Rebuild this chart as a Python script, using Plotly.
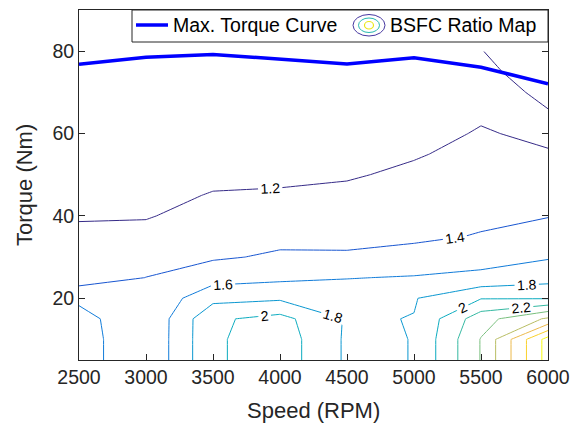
import plotly.graph_objects as go

# ---------------- data ----------------
speed_rpm = [2500, 3000, 3500, 4000, 4500, 5000, 5500, 6000]
torque_nm = [5, 10, 15, 20, 25, 30, 35, 40, 45, 50, 55, 60, 65, 70, 75, 80]

# BSFC ratio values: one row per torque value, one column per speed
bsfc_t05 = [1.71, 1.41, 1.97, 2.11, 1.77, 1.803, 2.41, 3.28]
bsfc_t10 = [1.71, 1.41, 1.97, 2.11, 1.77, 1.803, 2.41, 3.28]
bsfc_t15 = [1.69, 1.407, 1.967, 2.065, 1.78, 1.805, 2.318, 2.63]
bsfc_t20 = [1.549, 1.43, 1.741, 1.77, 1.72, 1.788, 1.99, 1.985]
bsfc_t25 = [1.301, 1.402, 1.521, 1.558, 1.592, 1.614, 1.65, 1.721]
bsfc_t30 = [1.263, 1.329, 1.377, 1.425, 1.42, 1.46, 1.52, 1.584]
bsfc_t35 = [1.226, 1.258, 1.330, 1.354, 1.359, 1.37, 1.41, 1.487]
bsfc_t40 = [1.19, 1.187, 1.270, 1.289, 1.30, 1.332, 1.367, 1.392]
bsfc_t45 = [1.16, 1.15, 1.21, 1.224, 1.241, 1.283, 1.328, 1.332]
bsfc_t50 = [1.13, 1.12, 1.16, 1.158, 1.182, 1.234, 1.289, 1.272]
bsfc_t55 = [1.11, 1.10, 1.12, 1.12, 1.14, 1.185, 1.251, 1.212]
bsfc_t60 = [1.10, 1.09, 1.10, 1.09, 1.11, 1.15, 1.212, 1.17]
bsfc_t65 = [1.10, 1.08, 1.08, 1.07, 1.08, 1.12, 1.18, 1.195]
bsfc_t70 = [1.11, 1.09, 1.07, 1.06, 1.07, 1.10, 1.16, 1.22]
bsfc_t75 = [1.12, 1.10, 1.08, 1.07, 1.08, 1.11, 1.17, 1.265]
bsfc_t80 = [1.14, 1.12, 1.10, 1.09, 1.10, 1.13, 1.195, 1.32]

bsfc_ratio = [bsfc_t05, bsfc_t10, bsfc_t15, bsfc_t20, bsfc_t25, bsfc_t30,
              bsfc_t35, bsfc_t40, bsfc_t45, bsfc_t50, bsfc_t55, bsfc_t60,
              bsfc_t65, bsfc_t70, bsfc_t75, bsfc_t80]

max_torque = [76.8, 78.5, 79.2, 78.1, 76.9, 78.4, 76.1, 72.1]

x_ticks = [2500, 3000, 3500, 4000, 4500, 5000, 5500, 6000]
y_ticks = [20, 40, 60, 80]

# MATLAB parula colormap (R2017a+), sampled
parula_rgb = [
    (0.2081, 0.1663, 0.5292), (0.1959, 0.2645, 0.7279), (0.0117, 0.3875, 0.8820),
    (0.0629, 0.4737, 0.8554), (0.0749, 0.5375, 0.8263), (0.0265, 0.6137, 0.8135),
    (0.0228, 0.6535, 0.7768), (0.0590, 0.6838, 0.7254), (0.1453, 0.7098, 0.6646),
    (0.2586, 0.7317, 0.5954), (0.3953, 0.7459, 0.5244), (0.5300, 0.7491, 0.4661),
    (0.6473, 0.7456, 0.4188), (0.7525, 0.7384, 0.3768), (0.8507, 0.7299, 0.3360),
    (0.9450, 0.7261, 0.2886), (0.9990, 0.7653, 0.2164), (0.9789, 0.8271, 0.1633),
    (0.9589, 0.8949, 0.1132), (0.9763, 0.9831, 0.0538),
]
_idx = [0, 4, 8, 12, 16, 20, 23, 27, 30, 33, 36, 39, 42, 45, 48, 51, 54, 57, 60, 63]
parula = [[i / 63, "rgb(%d,%d,%d)" % tuple(round(c * 255) for c in rgb)]
          for i, rgb in zip(_idx, parula_rgb)]

FONT = "Liberation Sans, Arial, Helvetica, sans-serif"
AX = "#262626"

fig = go.Figure()

fig.add_trace(go.Contour(
    x=speed_rpm, y=torque_nm, z=bsfc_ratio,
    colorscale=parula, zmin=1.06, zmax=3.28, zauto=False,
    showscale=False,
    contours=dict(start=1.2, end=3.2, size=0.2, coloring="lines",
                  showlabels=True,
                  labelfont=dict(family=FONT, size=14, color="black")),
    line=dict(width=1, smoothing=0),
    hoverinfo="skip",
    showlegend=False,
))

fig.add_trace(go.Scatter(
    x=speed_rpm, y=max_torque, mode="lines",
    line=dict(color="rgb(0,0,255)", width=3.5),
    showlegend=False,
))

# plot area geometry (pixels) used for paper conversion of legend decorations
W, H = 573, 430
ML, MR, MT, MB = 79, 25, 10, 70
PW = W - ML - MR
PH = H - MT - MB


def px(xp):
    return (xp - ML) / PW


def py(yp):
    return (H - MB - yp) / PH


shapes = []
shapes.append(dict(type="rect", xref="paper", yref="paper",
                   x0=px(132), x1=px(548), y0=py(42), y1=py(10),
                   fillcolor="white", line=dict(color=AX, width=1), layer="above"))
shapes.append(dict(type="line", xref="paper", yref="paper",
                   x0=px(136), x1=px(168), y0=py(25), y1=py(25),
                   line=dict(color="rgb(0,0,255)", width=3.5), layer="above"))
shapes.append(dict(type="circle", xref="paper", yref="paper",
                   x0=px(353), x1=px(385), y0=py(36), y1=py(14.5),
                   line=dict(color="rgb(70,55,160)", width=1), layer="above"))
shapes.append(dict(type="circle", xref="paper", yref="paper",
                   x0=px(358.5), x1=px(379.5), y0=py(32.5), y1=py(18),
                   line=dict(color="rgb(40,185,175)", width=1), layer="above"))
shapes.append(dict(type="circle", xref="paper", yref="paper",
                   x0=px(364.5), x1=px(373.5), y0=py(29), y1=py(21.5),
                   line=dict(color="rgb(235,230,20)", width=1.2), layer="above"))

annotations = [
    dict(text="Max. Torque Curve", xref="paper", yref="paper",
         x=px(171), y=py(25.5), xanchor="left", yanchor="middle", showarrow=False,
         font=dict(family=FONT, size=19.5, color="black")),
    dict(text="BSFC Ratio Map", xref="paper", yref="paper",
         x=px(388), y=py(25.5), xanchor="left", yanchor="middle", showarrow=False,
         font=dict(family=FONT, size=19.5, color="black")),
    dict(text="Speed (RPM)", xref="paper", yref="paper",
         x=0.5, y=py(410), xanchor="center", yanchor="middle", showarrow=False,
         font=dict(family=FONT, size=22, color=AX)),
    dict(text="Torque (Nm)", xref="paper", yref="paper",
         x=px(24), y=py(185), xanchor="center", yanchor="middle", showarrow=False,
         textangle=-90, font=dict(family=FONT, size=22, color=AX)),
]

fig.update_layout(
    width=W, height=H,
    margin=dict(l=ML, r=MR, t=MT, b=MB, autoexpand=False),
    paper_bgcolor="white", plot_bgcolor="white",
    font=dict(family=FONT, color=AX),
    showlegend=False,
    shapes=shapes,
    annotations=annotations,
)

fig.update_xaxes(range=[2500, 6000], tickvals=x_ticks, ticktext=[str(v) for v in x_ticks],
                 automargin=False,
                 showline=True, linecolor=AX, linewidth=1, mirror="ticks",
                 ticks="inside", ticklen=6, tickcolor=AX, showgrid=False, zeroline=False,
                 tickfont=dict(family=FONT, size=19.5, color=AX))
fig.update_yaxes(range=[5, 90], tickvals=y_ticks, ticktext=[str(v) for v in y_ticks],
                 automargin=False,
                 showline=True, linecolor=AX, linewidth=1, mirror="ticks",
                 ticks="inside", ticklen=6, tickcolor=AX, showgrid=False, zeroline=False,
                 tickfont=dict(family=FONT, size=19.5, color=AX))

fig.write_html("out.html", config={"displayModeBar": False},
               post_script="document.body.style.margin='0';document.body.style.padding='0';")
